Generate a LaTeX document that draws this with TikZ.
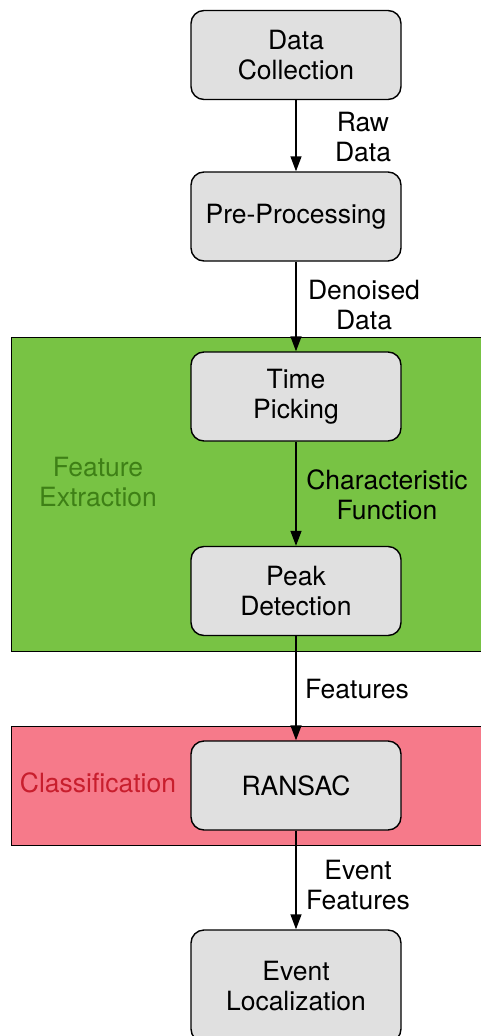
\documentclass[tikz,border=0pt]{standalone}
\usepackage{fontspec}
\setmainfont{TeX Gyre Heros}
\usetikzlibrary{arrows.meta}
\definecolor{boxfill}{RGB}{224,224,224}
\definecolor{greenfill}{RGB}{120,195,68}
\definecolor{greentext}{RGB}{62,128,22}
\definecolor{redfill}{RGB}{246,122,138}
\definecolor{redtext}{RGB}{200,30,45}
\tikzset{
  stepbox/.style={draw=black, line width=1.4pt, fill=boxfill, rounded corners=13pt,
    minimum width=210pt, minimum height=89pt, align=center, inner sep=0pt,
    font=\fontsize{26.5}{30}\selectfont},
  region/.style={draw=black, line width=1.2pt, anchor=north west, inner sep=0pt},
  flow/.style={line width=1.4pt, -{Triangle[width=11pt,length=15pt]}},
  lbl/.style={align=center, inner sep=0pt, font=\fontsize{26.5}{30}\selectfont},
}
\begin{document}
\begin{tikzpicture}[x=1pt,y=-1pt]
\useasboundingbox (0,0) rectangle (481,1036);
% regions
\node[region, fill=greenfill, minimum width=480pt, minimum height=314pt] (fe) at (11,337) {};
\node[region, fill=redfill, minimum width=480pt, minimum height=119pt] (cl) at (11,726) {};
\node[lbl, text=greentext] (fel) at (98,482) {Feature\\Extraction};
\node[lbl, text=redtext] (cll) at (98,783) {Classification};
% steps
\node[stepbox] (dc) at (296,55) {Data\\Collection};
\node[stepbox] (pp) at (296,216.5) {Pre-Processing};
\node[stepbox] (tp) at (296,396.5) {Time\\Picking};
\node[stepbox] (pd) at (296,591) {Peak\\Detection};
\node[stepbox] (rs) at (296,785.5) {RANSAC};
\node[stepbox, minimum height=112pt] (el) at (296,986) {Event\\Localization};
% connectors
\draw[flow] (dc) -- (pp);
\draw[flow] (pp) -- (tp);
\draw[flow] (tp) -- (pd);
\draw[flow] (pd) -- (rs);
\draw[flow] (rs) -- (el);
% labels
\node[lbl] (l1) at (363,137) {Raw\\Data};
\node[lbl] (l2) at (364,305) {Denoised\\Data};
\node[lbl] (l3) at (387,495) {Characteristic\\Function};
\node[lbl] (l4) at (357,689) {Features};
\node[lbl] (l5) at (358,885) {Event\\Features};
\end{tikzpicture}
\end{document}
